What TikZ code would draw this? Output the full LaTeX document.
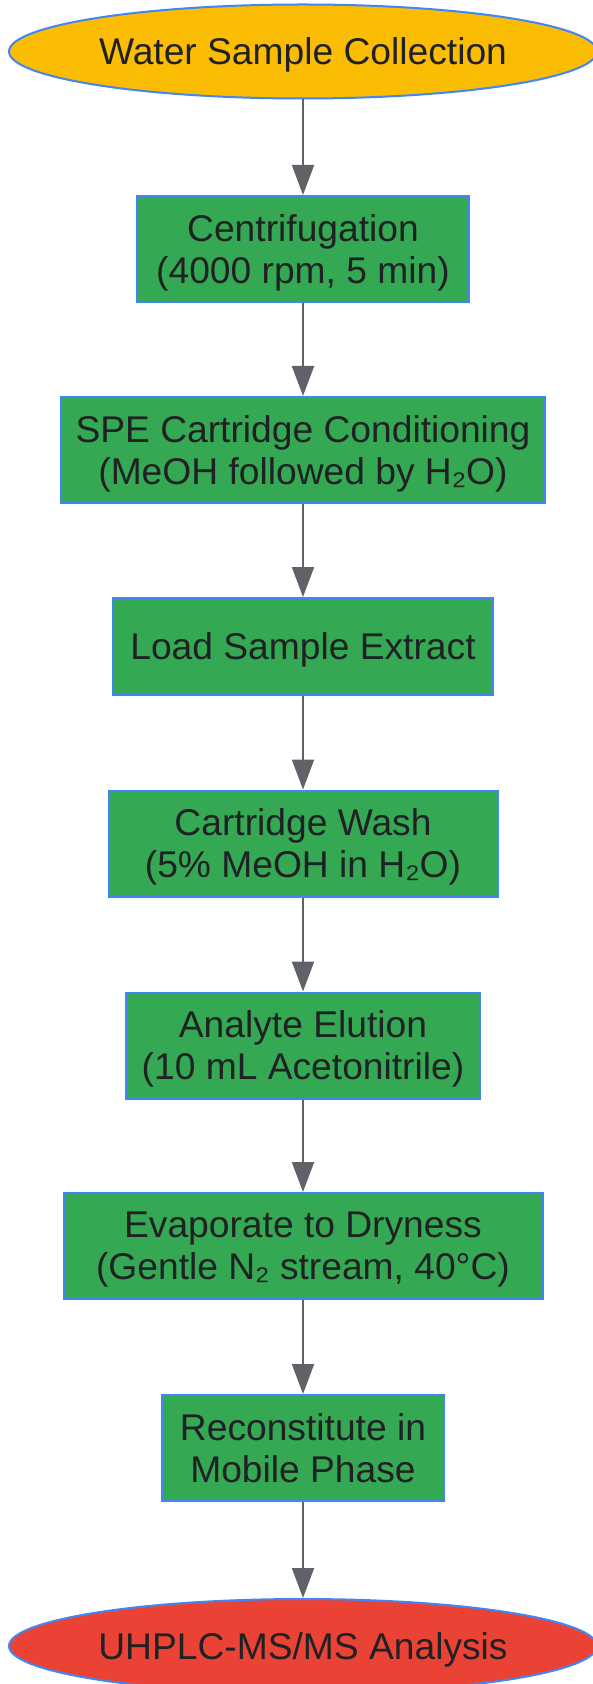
\documentclass[tikz,border=0pt]{standalone}
\usepackage{fontspec}
\setmainfont{Liberation Sans}
\usetikzlibrary{arrows.meta,shapes.geometric}
\definecolor{sunny}{HTML}{FBBC04}
\definecolor{leaf}{HTML}{34A853}
\definecolor{tomato}{HTML}{EA4335}
\definecolor{edge}{HTML}{4285F4}
\definecolor{ink}{HTML}{202124}
\definecolor{wire}{HTML}{5F6368}

\begin{document}
\begin{tikzpicture}[x=1pt,y=1pt,
      font=\fontsize{18.6pt}{21pt}\selectfont,text=ink,
      term/.style={ellipse,draw=edge,line width=1pt,minimum width=294pt,minimum height=47pt,inner sep=0pt,text depth=-3.6pt},
      stepbox/.style={rectangle,draw=edge,line width=1pt,fill=leaf,align=center,inner xsep=0pt,minimum height=53pt,text depth=-3.6pt},
      >={Triangle[length=15pt,width=11pt]},
      flow/.style={->,draw=wire,line width=1pt}]
      \useasboundingbox (0,0) rectangle (296.5,-842);
      \node[term,fill=sunny] (collect) at (151.5,-25.75) {Water Sample Collection};
      \node[stepbox,minimum width=166pt] (centri) at (151.5,-124.5) {Centrifugation\\(4000 rpm, 5 min)};
      \node[stepbox,minimum width=242pt] (condition) at (151.5,-225) {SPE Cartridge Conditioning\\(MeOH followed by H₂O)};
      \node[stepbox,minimum width=190pt,minimum height=48.5pt] (load) at (151.5,-323.25) {Load Sample Extract};
      \node[stepbox,minimum width=194.5pt] (wash) at (151.5,-421.75) {Cartridge Wash\\(5\% MeOH in H₂O)};
      \node[stepbox,minimum width=177pt] (elute) at (151.5,-522.75) {Analyte Elution\\(10 mL Acetonitrile)};
      \node[stepbox,minimum width=239.5pt] (evap) at (151.5,-623) {Evaporate to Dryness\\(Gentle N₂ stream, 40°C)};
      \node[stepbox,minimum width=141pt] (recon) at (151.5,-724) {Reconstitute in\\Mobile Phase};
      \node[term,fill=tomato] (analysis) at (151.5,-823) {UHPLC-MS/MS Analysis};

      \draw[flow] (collect) -- (centri);
      \draw[flow] (centri) -- (condition);
      \draw[flow] (condition) -- (load);
      \draw[flow] (load) -- (wash);
      \draw[flow] (wash) -- (elute);
      \draw[flow] (elute) -- (evap);
      \draw[flow] (evap) -- (recon);
      \draw[flow] (recon) -- (analysis);
\end{tikzpicture}
\end{document}
